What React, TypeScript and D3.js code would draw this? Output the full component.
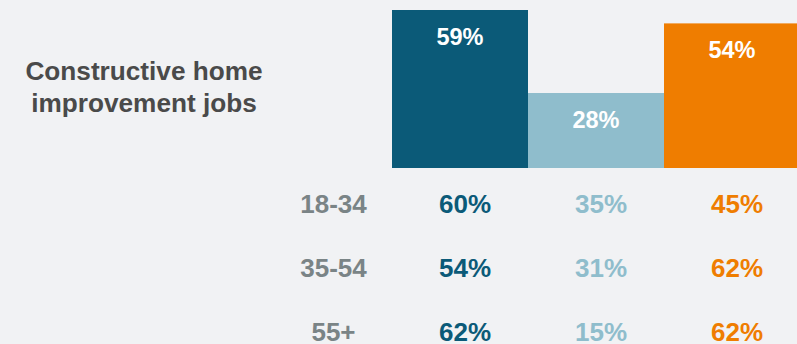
import React from "react";
import * as d3 from "d3";

const categories = ["Group A", "Group B", "Group C"];
const overallValues = [59, 28, 54];
const ageGroups = ["18-34", "35-54", "55+"];
const ageValues = [
  [60, 35, 45],
  [54, 31, 62],
  [62, 15, 62],
];
const titleLines = ["Constructive home", "improvement jobs"];
const colors = ["#0b5a78", "#8fbdcc", "#ef7d00"];

const W = 797;
const H = 344;
const FONT = "'Liberation Sans', Arial, Helvetica, sans-serif";

export default function App() {
  const x = d3.scaleBand<string>().domain(categories).range([392, 800]).padding(0);
  const y = d3.scaleLinear().domain([0, 59]).range([168, 10]);
  const rowY = d3.scalePoint<string>().domain(ageGroups).range([213.3, 340.5]);

  return (
    <svg
      width={W}
      height={H}
      style={{ position: "absolute", left: 0, top: 0, display: "block" }}
      fontFamily={FONT}
      fontWeight="bold"
    >
      <rect x={0} y={0} width={W} height={H} fill="#f1f2f4" />
      {titleLines.map((t, i) => (
        <text key={t} x={144} y={79.5 + i * 32.3} textAnchor="middle" fontSize={26.2} fill="#4a4a4a">
          {t}
        </text>
      ))}
      {categories.map((c, i) => (
        <g key={c}>
          <rect
            x={x(c)!}
            y={y(overallValues[i])}
            width={x.bandwidth()}
            height={y(0) - y(overallValues[i])}
            fill={colors[i]}
          />
          <text
            x={x(c)! + x.bandwidth() / 2}
            y={y(overallValues[i]) + 35}
            textAnchor="middle"
            fontSize={23.5}
            fill="#ffffff"
          >
            {overallValues[i]}%
          </text>
        </g>
      ))}
      {ageGroups.map((g, r) => (
        <g key={g}>
          <text x={333.5} y={rowY(g)!} textAnchor="middle" fontSize={26} fill="#7a8486">
            {g}
          </text>
          {categories.map((c, i) => (
            <text
              key={c}
              x={x(c)! + x.bandwidth() / 2 + 5}
              y={rowY(g)!}
              textAnchor="middle"
              fontSize={26}
              fill={colors[i]}
            >
              {ageValues[r][i]}%
            </text>
          ))}
        </g>
      ))}
    </svg>
  );
}
